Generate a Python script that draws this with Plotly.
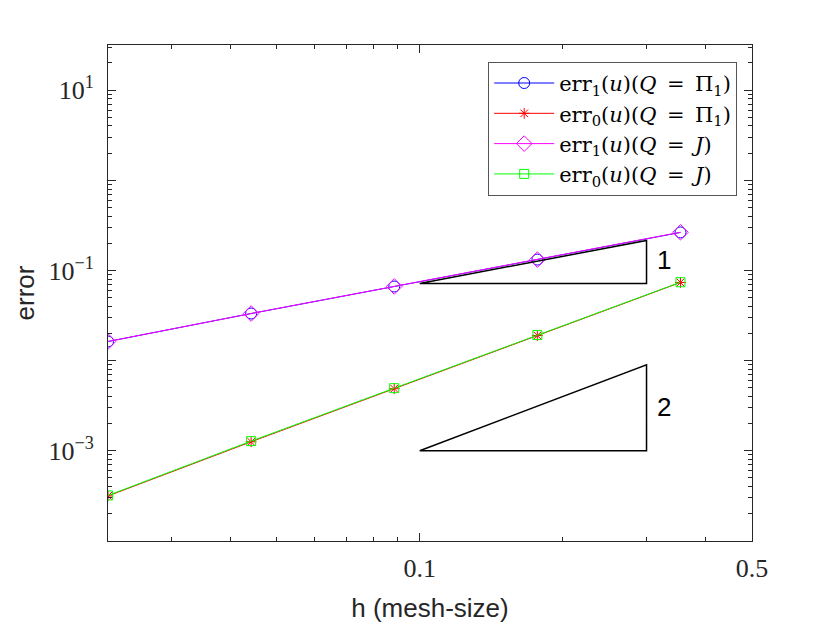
import math
import plotly.graph_objects as go

h = [0.0221, 0.0442, 0.0884, 0.1768, 0.3536]
err1_pi = [0.0163, 0.0333, 0.0664, 0.132, 0.264]
err0_pi = [0.000316, 0.00126, 0.00489, 0.0190, 0.0736]
err1_J = [0.0163, 0.0333, 0.0665, 0.132, 0.265]
err0_J = [0.000320, 0.00128, 0.00495, 0.0192, 0.0740]

tri1_x = [0.1, 0.3, 0.3, 0.1]
tri1_y = [0.0717, 0.0717, 0.215, 0.0717]
tri2_x = [0.1, 0.3, 0.3, 0.1]
tri2_y = [0.001, 0.001, 0.009, 0.001]

slope_labels = ["1", "2"]
slope_label_x = [0.313, 0.313]
slope_label_y = [0.132, 0.00306]

sp = "\u2002"
names = [
    f"err<sub>1</sub>(<i>u</i>)(<i>Q</i>{sp}={sp}Π<sub>1</sub>)",
    f"err<sub>0</sub>(<i>u</i>)(<i>Q</i>{sp}={sp}Π<sub>1</sub>)",
    f"err<sub>1</sub>(<i>u</i>)(<i>Q</i>{sp}={sp}<i>J</i>)",
    f"err<sub>0</sub>(<i>u</i>)(<i>Q</i>{sp}={sp}<i>J</i>)",
]

fig = go.Figure()
series = [
    (err1_pi, "#0000FF", "circle-open", 11),
    (err0_pi, "#FF0000", "asterisk-open", 9),
    (err1_J, "#FF00FF", "diamond-open", 12),
    (err0_J, "#00FF00", "square-open", 9),
]
for (ys, col, sym, sz), nm in zip(series, names):
    fig.add_trace(go.Scatter(
        x=h, y=ys, mode="lines+markers", name=nm,
        line=dict(color=col, width=1),
        marker=dict(symbol=sym, size=sz, color=col, line=dict(color=col, width=1)),
    ))

for tx, ty in [(tri1_x, tri1_y), (tri2_x, tri2_y)]:
    fig.add_trace(go.Scatter(x=tx, y=ty, mode="lines", showlegend=False,
                             line=dict(color="black", width=1.5), hoverinfo="skip"))

for t, lx, ly in zip(slope_labels, slope_label_x, slope_label_y):
    fig.add_annotation(x=math.log10(lx), y=math.log10(ly), xref="x", yref="y",
                       text=t, showarrow=False, xanchor="left",
                       font=dict(family="Liberation Sans", size=26, color="black"))

ytickvals = [1e-4, 1e-3, 1e-2, 1e-1, 1, 10]
yticktext = ["", "10<sup>−3</sup>", "", "10<sup>−1</sup>", "", "10<sup>1</sup>"]

axis_col = "#262626"
fig.update_layout(
    width=830, height=623,
    margin=dict(l=100, r=86, t=37, b=90),
    paper_bgcolor="white", plot_bgcolor="white",
    showlegend=True,
    legend=dict(x=0.977, y=0.966, xanchor="right", yanchor="top",
                bgcolor="white", bordercolor="#555555", borderwidth=1,
                font=dict(family="DejaVu Serif", size=21, color="black"),
                itemwidth=60, tracegroupgap=0),
    xaxis=dict(
        type="log", range=[-1.6556, -0.30103],
        tickvals=[0.1, 0.5], ticktext=["0.1", "0.5"],
        ticks="inside", ticklen=8, tickcolor=axis_col,
        minor=dict(tickvals=[0.03, 0.04, 0.05, 0.06, 0.07, 0.08, 0.09, 0.2, 0.3, 0.4],
                   ticks="inside", ticklen=4, tickcolor=axis_col),
        showline=True, linecolor=axis_col, linewidth=1, mirror="allticks",
        showgrid=False, zeroline=False, ticklabelstandoff=4,
        tickfont=dict(family="Liberation Serif", size=26, color=axis_col),
        title=dict(text="h (mesh-size)", standoff=16,
                   font=dict(family="Liberation Sans", size=26, color=axis_col)),
    ),
    yaxis=dict(
        type="log", range=[-4, 1.5],
        tickvals=ytickvals, ticktext=yticktext,
        ticks="inside", ticklen=8, tickcolor=axis_col,
        minor=dict(dtick="D1", ticks="inside", ticklen=4, tickcolor=axis_col),
        showline=True, linecolor=axis_col, linewidth=1, mirror="allticks",
        showgrid=False, zeroline=False, ticklabelstandoff=8,
        tickfont=dict(family="Liberation Serif", size=26, color=axis_col),
        title=dict(text="error", standoff=6,
                   font=dict(family="Liberation Sans", size=26, color=axis_col)),
    ),
)

fig.write_html("out.html")
